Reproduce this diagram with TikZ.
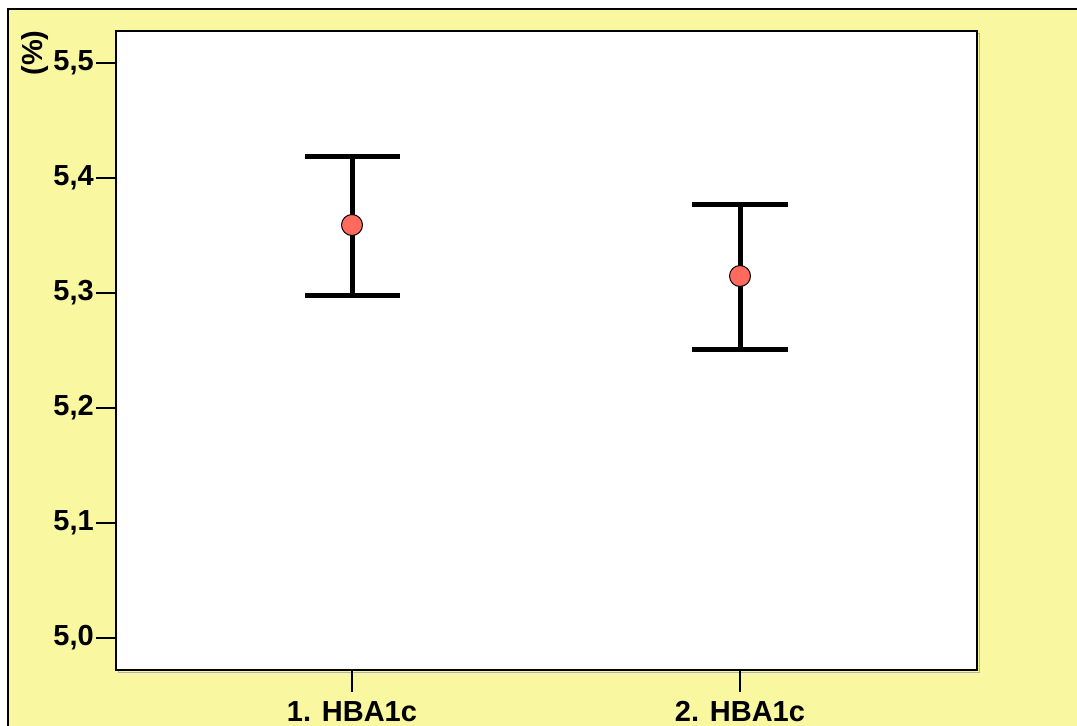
\documentclass[tikz,border=0pt]{standalone}
\usepackage{fontspec}
\setmainfont{Liberation Sans}
\definecolor{bgyellow}{HTML}{F9F79F}
\definecolor{ptred}{HTML}{FF6A5E}
\begin{document}
\begin{tikzpicture}[x=1pt,y=-1pt,
  lbl/.style={font=\bfseries\fontsize{29}{32}\selectfont, inner sep=0pt},
  tick/.style={line width=1.3pt},
  bar/.style={line width=5pt},
  pt/.style={circle, draw=black, line width=1pt, fill=ptred, minimum size=21pt, inner sep=0pt}]
\useasboundingbox (0,0) rectangle (1077,726);
\fill[white] (0,0) rectangle (1077,726);
\fill[bgyellow] (8,9) rectangle (1077,726);
\draw[line width=1.5pt] (8,726) -- (8,9) -- (1077,9);
% plot area
\draw[gray!60, line width=1pt] (118,33) rectangle (979,672);
\filldraw[fill=white, draw=black, line width=1.3pt] (116,31) rectangle (977,670);
% y ticks
\foreach \v/\t in {0/{5,0},1/{5,1},2/{5,2},3/{5,3},4/{5,4},5/{5,5}}{
  \coordinate (yt\v) at (116,{638-115*\v});
  \coordinate (ys\v) at (96,{638-115*\v});
  \draw[tick] (yt\v) -- (ys\v);
  \node[lbl, anchor=east] (yl\v) at (94,{638-115*\v}) {\t};
}
\node[lbl, rotate=90] (unit) at (35,53) {(\%)};
% x ticks
\foreach \i/\x in {1/352,2/740}{
  \coordinate (xt\i) at (\x,670);
  \coordinate (xs\i) at (\x,692);
  \draw[tick] (xt\i) -- (xs\i);
  \node[lbl, anchor=north] (xl\i) at (\x,701) {\i. HBA1c};
}
% error bars group 1
\coordinate (a1) at (305,156); \coordinate (b1) at (400,156);
\coordinate (c1) at (305,295); \coordinate (d1) at (400,295);
\coordinate (t1) at (352,156); \coordinate (u1) at (352,295);
\draw[bar] (a1) -- (b1); \draw[bar] (c1) -- (d1); \draw[bar] (t1) -- (u1);
\node[pt] (m1) at (352,225) {};
% error bars group 2
\coordinate (a2) at (692,204); \coordinate (b2) at (788,204);
\coordinate (c2) at (692,349); \coordinate (d2) at (788,349);
\coordinate (t2) at (740,204); \coordinate (u2) at (740,349);
\draw[bar] (a2) -- (b2); \draw[bar] (c2) -- (d2); \draw[bar] (t2) -- (u2);
\node[pt] (m2) at (740,276) {};
\end{tikzpicture}
\end{document}
